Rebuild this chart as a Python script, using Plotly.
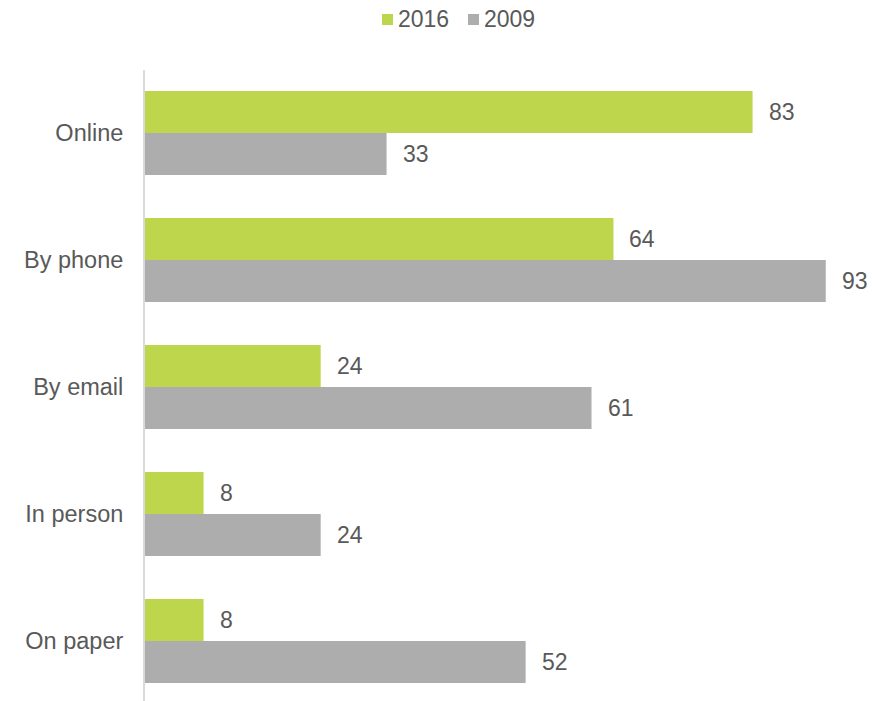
import plotly.graph_objects as go

categories = ["Online", "By phone", "By email", "In person", "On paper"]
values_2016 = [83, 64, 24, 8, 8]
values_2009 = [33, 93, 61, 24, 52]
series_names = ["2016", "2009"]

GREEN = "#BDD64B"
GRAY = "#ADADAD"
TEXT = "#595959"
FONT = "Liberation Sans, Arial, sans-serif"

fig = go.Figure()
for name, vals, color in [(series_names[0], values_2016, GREEN),
                          (series_names[1], values_2009, GRAY)]:
    fig.add_trace(go.Bar(
        name=name, y=categories, x=vals, orientation="h",
        marker=dict(color=color, line=dict(width=0)),
        showlegend=False,
    ))

# value labels to the right of each bar
annotations = []
for vals, shift in [(values_2016, 21), (values_2009, -21)]:
    for cat, v in zip(categories, vals):
        annotations.append(dict(
            x=v, y=cat, xref="x", yref="y", text=str(v), showarrow=False,
            xanchor="left", yanchor="middle", xshift=14, yshift=shift,
            font=dict(family=FONT, size=23, color=TEXT),
        ))

# legend drawn as coloured squares followed by the series name
for name, color, xpx in [(series_names[0], GREEN, 382), (series_names[1], GRAY, 468)]:
    fig.add_shape(type="rect", xref="paper", yref="paper",
                  x0=(xpx - 145) / 732, x1=(xpx + 11 - 145) / 732,
                  y0=1 + (70 - 25) / 631, y1=1 + (70 - 14) / 631,
                  fillcolor=color, line=dict(width=0))
    annotations.append(dict(
        x=(xpx + 14 - 145) / 732, y=1 + (70 - 19) / 631, xref="paper", yref="paper",
        text=name, showarrow=False, xanchor="left", yanchor="middle",
        font=dict(family=FONT, size=23, color=TEXT),
    ))

fig.update_layout(
    width=877, height=701,
    margin=dict(l=145, r=0, t=70, b=0),
    paper_bgcolor="white", plot_bgcolor="white",
    barmode="group", bargap=0.339, bargroupgap=0,
    annotations=annotations,
    xaxis=dict(range=[0, 100], showgrid=False, showticklabels=False,
               zeroline=False, showline=False, ticks=""),
    yaxis=dict(categoryorder="array", categoryarray=categories,
               range=[4.472, -0.496], showgrid=False, zeroline=False,
               showline=True, linecolor="#D9D9D9", linewidth=2,
               ticks="", ticklabelstandoff=15,
               tickfont=dict(family=FONT, size=23.5, color=TEXT)),
    font=dict(family=FONT, color=TEXT),
)

fig.write_html("out.html")
